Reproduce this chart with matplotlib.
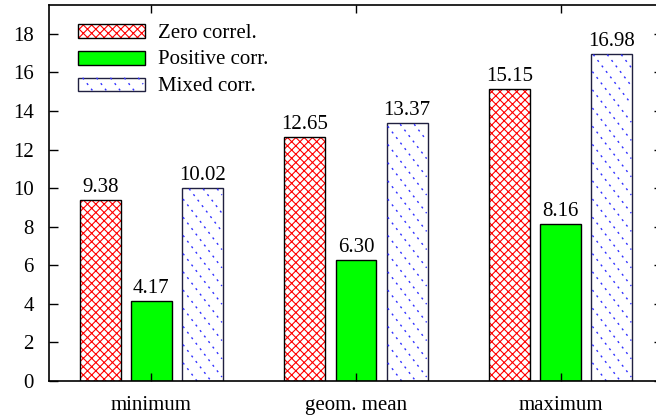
import numpy as np
import matplotlib.pyplot as plt
import matplotlib.patches as mpatches
from matplotlib.lines import Line2D
from matplotlib.transforms import IdentityTransform
from matplotlib.legend_handler import HandlerBase

plt.rcParams['font.family'] = ['Liberation Serif', 'DejaVu Serif']
plt.rcParams['hatch.linewidth'] = 0.8

## dados
grupos = ['minimum', 'geom. mean', 'maximum']
zero_corr = [9.38, 12.65, 15.15]
pos_corr = [4.17, 6.30, 8.16]
mixed_corr = [10.02, 13.37, 16.98]
series = ['Zero correl.', 'Positive corr.', 'Mixed corr.']

x = np.arange(len(grupos))
w = 0.2
desloc = [-0.25, 0.0, 0.25]
azul = '#3030ff'
tracos = (1.5, 3.5)
fs = 15


def recorta(xa, ya, xb, yb, xmin, xmax, ymin, ymax):
    # Liang-Barsky: recorta o segmento dentro do retangulo
    dx, dy = xb - xa, yb - ya
    t0, t1 = 0.0, 1.0
    for p, q in ((-dx, xa - xmin), (dx, xmax - xa), (-dy, ya - ymin), (dy, ymax - ya)):
        if p == 0:
            if q < 0:
                return None
            continue
        t = q / p
        if p < 0:
            t0 = max(t0, t)
        else:
            t1 = min(t1, t)
    if t0 >= t1:
        return None
    return [xa + t0*dx, xa + t1*dx], [ya + t0*dy, ya + t1*dy]


def diagonais(xmin, xmax, ymin, ymax, passo, incl=1.3):
    """segmentos diagonais (\\) dentro do retangulo"""
    h = ymax - ymin
    dx = h / incl
    segs = []
    c = xmin - dx
    while c < xmax + passo:
        s = recorta(c, ymax, c + dx, ymin, xmin, xmax, ymin, ymax)
        if s is not None:
            segs.append(s)
        c += passo
    return segs


fig = plt.figure(figsize=(6.56, 4.19), dpi=100)
ax = fig.add_axes([49/656, 38/419, 614/656, 376/419])
ax.set_xlim(-0.5, 2.5)
ax.set_ylim(0, 19.5)

# zero correl.: hachura cruzada vermelha
ax.bar(x + desloc[0], zero_corr, w, facecolor='white', edgecolor='red', hatch='xxxx', linewidth=0)
ax.bar(x + desloc[0], zero_corr, w, facecolor='none', edgecolor='black', linewidth=1.0)
# positive corr.: verde solido
ax.bar(x + desloc[1], pos_corr, w, facecolor='#00ff00', edgecolor='black', linewidth=1.0)
# mixed corr.: diagonais tracejadas azuis (em pixels)
bm = ax.bar(x + desloc[2], mixed_corr, w, facecolor='white', edgecolor='#202040', linewidth=1.0)
for r in bm.patches:
    bb = r.get_window_extent()
    for xs, ys in diagonais(bb.x0 + 1, bb.x1 - 1, bb.y0, bb.y1 - 1, 14.0):
        ax.add_artist(Line2D(xs, ys, transform=IdentityTransform(), color=azul,
                             lw=1.0, dashes=tracos, clip_on=False, zorder=1.5))

for vals, d in zip([zero_corr, pos_corr, mixed_corr], desloc):
    for xi, v in zip(x + d, vals):
        ax.text(xi, v + 0.15, '%.2f' % v, ha='center', va='bottom', fontsize=fs)


class Amostra(HandlerBase):
    def __init__(self, tipo):
        super().__init__()
        self.tipo = tipo

    def create_artists(self, legend, orig, xd, yd, width, height, fontsize, trans):
        arts = []
        if self.tipo == 0:
            arts.append(mpatches.Rectangle((xd, yd), width, height, facecolor='white',
                                           edgecolor='red', hatch='xxxx', lw=0, transform=trans))
            arts.append(mpatches.Rectangle((xd, yd), width, height, facecolor='none',
                                           edgecolor='black', lw=1.0, transform=trans))
        elif self.tipo == 1:
            arts.append(mpatches.Rectangle((xd, yd), width, height, facecolor='#00ff00',
                                           edgecolor='black', lw=1.0, transform=trans))
        else:
            arts.append(mpatches.Rectangle((xd, yd), width, height, facecolor='white',
                                           edgecolor='#202040', lw=1.0, transform=trans))
            for xs, ys in diagonais(xd + 1, xd + width - 1, yd, yd + height, 10.0):
                arts.append(Line2D(xs, ys, color=azul, lw=1.0, dashes=tracos,
                                   transform=trans))
        return arts


hs = [mpatches.Patch(label=s) for s in series]
ax.legend(hs, series, handler_map={hs[i]: Amostra(i) for i in range(3)},
          loc='upper left', bbox_to_anchor=(0.047, 0.951), frameon=False,
          fontsize=fs, handlelength=3.2, handleheight=0.63, handletextpad=0.65,
          labelspacing=0.36, borderaxespad=0, borderpad=0)

ax.set_yticks(np.arange(0, 19, 2))
ax.set_xticks(x)
ax.set_xticklabels(grupos)
ax.tick_params(direction='in', top=True, right=True, labelsize=fs, length=6.5, width=1)
ax.tick_params(axis='y', pad=11)
ax.tick_params(axis='x', length=6, pad=11)
for s in ax.spines.values():
    s.set_linewidth(1.2)

plt.savefig('out.png', dpi=100)
